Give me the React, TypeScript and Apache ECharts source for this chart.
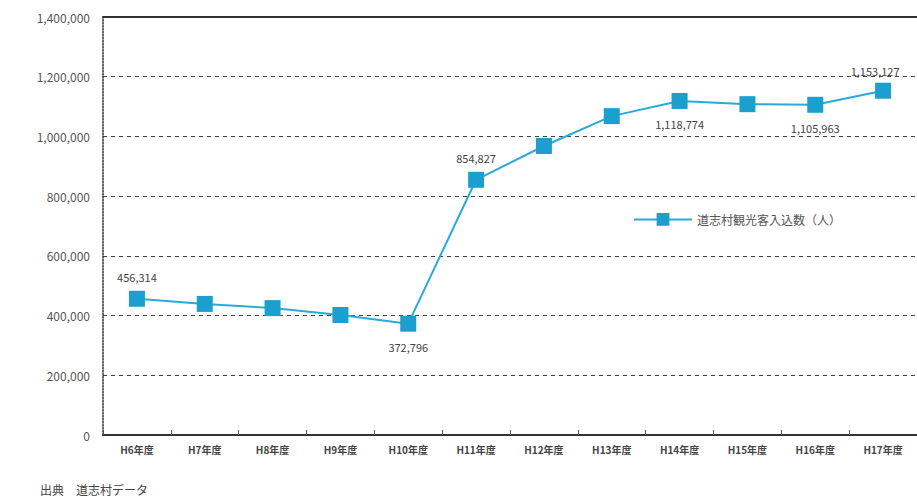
import React, { useEffect, useRef } from "react";
import * as echarts from "echarts";

const categories = ["H6年度", "H7年度", "H8年度", "H9年度", "H10年度", "H11年度", "H12年度", "H13年度", "H14年度", "H15年度", "H16年度", "H17年度"];
const visitors = [456314, 439000, 425000, 402000, 372796, 854827, 968000, 1068000, 1118774, 1108000, 1105963, 1153127];
const labelPositions = ["top", "", "", "", "bottom", "top", "", "", "bottom", "", "bottom", "top"];
const seriesName = "道志村観光客入込数（人）";
const sourceText = "出典　道志村データ";

export default function App() {
  const ref = useRef<HTMLDivElement>(null);
  useEffect(() => {
    const chart = echarts.init(ref.current!, null, { renderer: "svg" });
    const fmt = (v: number) => v.toLocaleString("en-US");
    const data = visitors.map((v, i) => {
      const pos = labelPositions[i];
      return {
        value: v,
        label: pos
          ? {
              show: true,
              position: pos,
              distance: pos === "top" ? 8 : 10,
              offset: i === 11 ? [-8, 2] : [0, 0],
              formatter: () => fmt(v),
            }
          : { show: false },
      };
    });
    chart.setOption({
      animation: false,
      textStyle: { fontFamily: "Noto Sans CJK JP, sans-serif" },
      grid: { left: 103, right: -6, top: 17, bottom: 65, containLabel: false },
      legend: {
        data: [seriesName],
        left: 628,
        top: 208,
        itemWidth: 58,
        itemHeight: 16,
        itemGap: 10,
        textStyle: { color: "#555", fontSize: 12 },
      },
      xAxis: [
        {
          type: "category",
          data: categories,
          boundaryGap: true,
          axisLine: { lineStyle: { color: "#333", width: 2 } },
          axisTick: { show: true, inside: true, length: 5, lineStyle: { color: "#555" } },
          axisLabel: { color: "#444", fontSize: 10, margin: 9, fontWeight: "bold" },
          splitLine: { show: false },
        },
        {
          type: "category",
          position: "top",
          data: categories,
          axisLine: { lineStyle: { color: "#333", width: 2 } },
          axisTick: { show: false },
          axisLabel: { show: false },
        },
      ],
      yAxis: {
        type: "value",
        min: 0,
        max: 1400000,
        interval: 200000,
        axisLine: { show: true, lineStyle: { color: "#333", type: "dotted", width: 1.5 } },
        axisTick: { show: false },
        axisLabel: { color: "#555", fontSize: 12, margin: 13, formatter: (v: number) => fmt(v) },
        splitLine: { show: true, lineStyle: { color: "#444", type: [4, 4], width: 1 } },
      },
      series: [
        {
          name: seriesName,
          type: "line",
          data,
          symbol: "rect",
          symbolSize: 16,
          itemStyle: { color: "#1a9fcf" },
          lineStyle: { color: "#2aaad6", width: 2 },
          label: { color: "#444", fontSize: 11 },
        },
      ],
      graphic: [
        {
          type: "text",
          left: 40,
          top: 483,
          style: { text: sourceText, fill: "#444", fontSize: 12, fontFamily: "Noto Sans CJK JP, sans-serif" },
        },
      ],
    });
    return () => chart.dispose();
  }, []);
  return <div ref={ref} style={{ width: 917, height: 500, position: "absolute", left: 0, top: 0 }} />;
}
